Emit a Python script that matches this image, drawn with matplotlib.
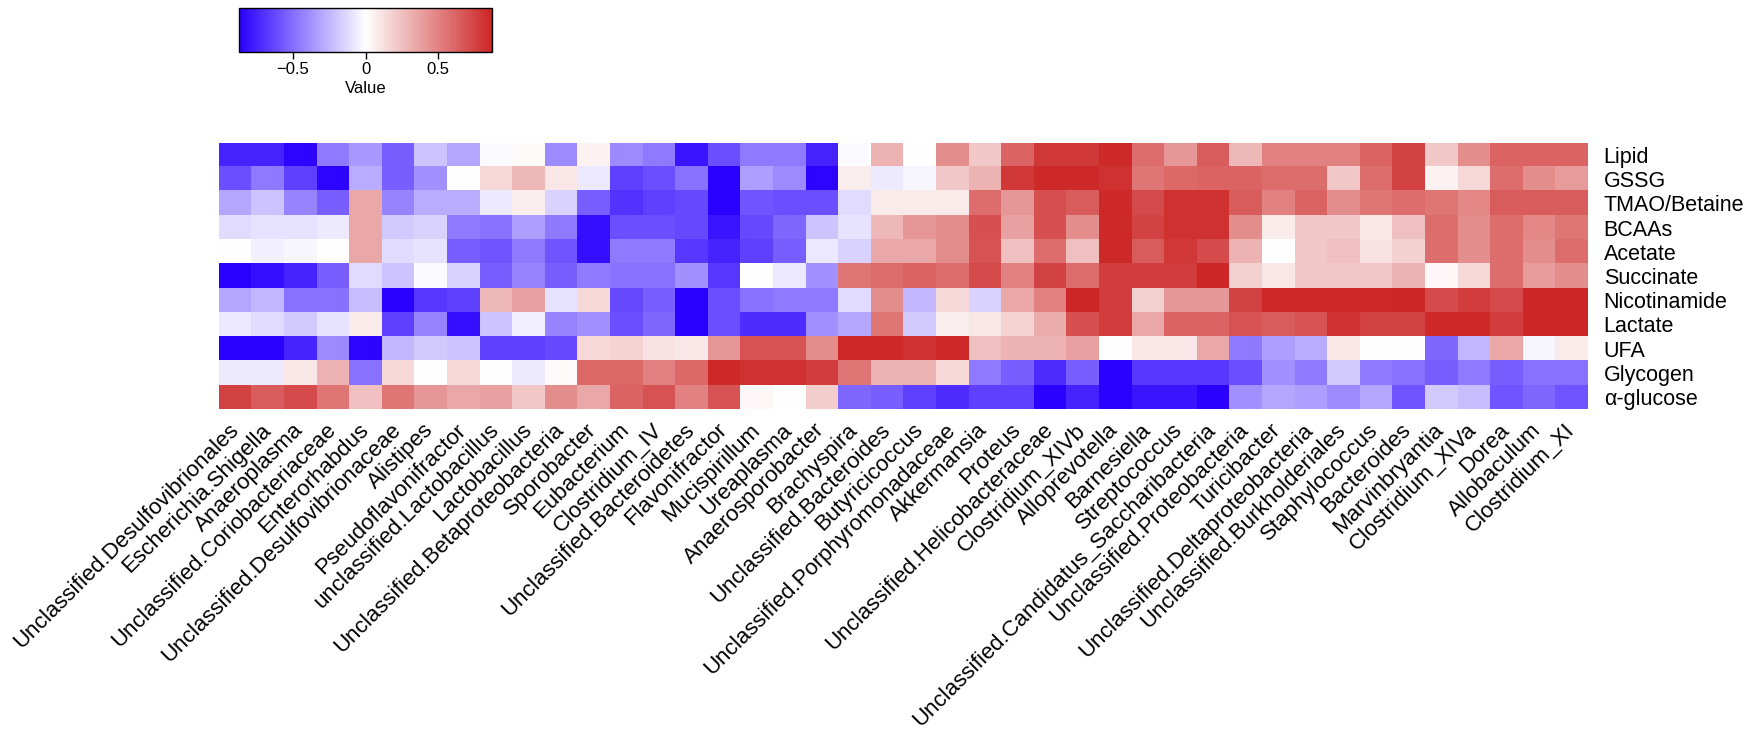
import numpy as np
import matplotlib
matplotlib.use("Agg")
import matplotlib.pyplot as plt
from matplotlib.colors import LinearSegmentedColormap

plt.rcParams['font.family'] = ['Liberation Sans', 'DejaVu Sans']

genera = ["Unclassified.Desulfovibrionales", "Escherichia.Shigella", "Anaeroplasma",
          "Unclassified.Coriobacteriaceae", "Enterorhabdus", "Unclassified.Desulfovibrionaceae",
          "Alistipes", "Pseudoflavonifractor", "unclassified.Lactobacillus", "Lactobacillus",
          "Unclassified.Betaproteobacteria", "Sporobacter", "Eubacterium", "Clostridium_IV",
          "Unclassified.Bacteroidetes", "Flavonifractor", "Mucispirillum", "Ureaplasma",
          "Anaerosporobacter", "Brachyspira", "Unclassified.Bacteroides", "Butyricicoccus",
          "Unclassified.Porphyromonadaceae", "Akkermansia", "Proteus",
          "Unclassified.Helicobacteraceae", "Clostridium_XIVb", "Alloprevotella", "Barnesiella",
          "Streptococcus", "Unclassified.Candidatus_Saccharibacteria", "Unclassified.Proteobacteria",
          "Turicibacter", "Unclassified.Deltaproteobacteria", "Unclassified.Burkholderiales",
          "Staphylococcus", "Bacteroides", "Marvinbryantia", "Clostridium_XIVa", "Dorea",
          "Allobaculum", "Clostridium_XI"]

metabolites = ["Lipid", "GSSG", "TMAO/Betaine", "BCAAs", "Acetate", "Succinate",
               "Nicotinamide", "Lactate", "UFA", "Glycogen", "α-glucose"]

# correlation values per metabolite (one per genus, same order as genera)
lipid = [-0.75, -0.75, -0.85, -0.45, -0.35, -0.55, -0.2, -0.3, -0.02, 0.02, -0.4, 0.05, -0.4, -0.45,
         -0.8, -0.6, -0.45, -0.45, -0.75, -0.02, 0.3, 0.0, 0.45, 0.22, 0.62, 0.8, 0.8, 0.85,
         0.58, 0.42, 0.65, 0.28, 0.5, 0.5, 0.5, 0.62, 0.75, 0.22, 0.45, 0.62, 0.62, 0.62]
gssg = [-0.6, -0.45, -0.65, -0.85, -0.28, -0.55, -0.38, 0.0, 0.15, 0.28, 0.1, -0.08, -0.65, -0.6,
        -0.48, -0.87, -0.33, -0.4, -0.85, 0.07, -0.07, -0.03, 0.22, 0.3, 0.8, 0.85, 0.85, 0.82,
        0.55, 0.6, 0.62, 0.62, 0.58, 0.58, 0.22, 0.58, 0.75, 0.05, 0.15, 0.58, 0.45, 0.4]
tmao = [-0.3, -0.2, -0.42, -0.55, 0.35, -0.42, -0.28, -0.28, -0.08, 0.07, -0.15, -0.55, -0.7, -0.65,
        -0.62, -0.87, -0.58, -0.6, -0.6, -0.12, 0.08, 0.08, 0.08, 0.58, 0.42, 0.7, 0.65, 0.85,
        0.72, 0.82, 0.82, 0.65, 0.5, 0.62, 0.45, 0.55, 0.58, 0.55, 0.48, 0.65, 0.65, 0.65]
bcaas = [-0.12, -0.1, -0.1, -0.07, 0.35, -0.18, -0.15, -0.45, -0.48, -0.33, -0.45, -0.82, -0.6, -0.6,
         -0.62, -0.8, -0.62, -0.52, -0.2, -0.1, 0.28, 0.42, 0.45, 0.7, 0.38, 0.7, 0.45, 0.85,
         0.75, 0.82, 0.82, 0.45, 0.08, 0.22, 0.22, 0.1, 0.25, 0.58, 0.45, 0.58, 0.48, 0.55]
acetate = [0.0, -0.05, -0.03, 0.0, 0.35, -0.12, -0.1, -0.55, -0.58, -0.45, -0.58, -0.82, -0.45, -0.45,
           -0.68, -0.75, -0.65, -0.55, -0.08, -0.15, 0.35, 0.35, 0.45, 0.68, 0.25, 0.58, 0.25, 0.85,
           0.65, 0.8, 0.72, 0.3, 0.0, 0.22, 0.25, 0.12, 0.18, 0.58, 0.45, 0.58, 0.45, 0.58]
succinate = [-0.87, -0.82, -0.75, -0.55, -0.12, -0.2, -0.02, -0.15, -0.55, -0.42, -0.55, -0.45, -0.48, -0.48,
             -0.38, -0.68, 0.0, -0.08, -0.38, 0.55, 0.58, 0.62, 0.58, 0.72, 0.5, 0.75, 0.58, 0.78,
             0.78, 0.78, 0.87, 0.18, 0.1, 0.22, 0.22, 0.22, 0.3, 0.03, 0.15, 0.58, 0.4, 0.45]
nicotinamide = [-0.3, -0.25, -0.48, -0.48, -0.22, -0.87, -0.68, -0.65, 0.28, 0.38, -0.1, 0.15, -0.62, -0.55,
                -0.87, -0.6, -0.48, -0.45, -0.45, -0.12, 0.45, -0.25, 0.15, -0.15, 0.35, 0.5, 0.87, 0.78,
                0.18, 0.42, 0.42, 0.75, 0.85, 0.85, 0.85, 0.85, 0.87, 0.72, 0.78, 0.72, 0.87, 0.87]
lactate = [-0.08, -0.12, -0.18, -0.1, 0.08, -0.65, -0.42, -0.82, -0.2, -0.05, -0.42, -0.38, -0.6, -0.52,
           -0.87, -0.6, -0.72, -0.72, -0.38, -0.3, 0.55, -0.18, 0.07, 0.1, 0.17, 0.33, 0.7, 0.78,
           0.35, 0.62, 0.62, 0.68, 0.65, 0.68, 0.82, 0.75, 0.75, 0.85, 0.85, 0.78, 0.87, 0.87]
ufa = [-0.87, -0.87, -0.75, -0.4, -0.85, -0.25, -0.18, -0.2, -0.65, -0.65, -0.62, 0.15, 0.17, 0.12,
       0.1, 0.42, 0.68, 0.68, 0.45, 0.85, 0.85, 0.82, 0.85, 0.25, 0.3, 0.3, 0.38, 0.0,
       0.1, 0.1, 0.35, -0.45, -0.33, -0.28, 0.1, 0.0, 0.0, -0.52, -0.25, 0.35, -0.03, 0.08]
glycogen = [-0.07, -0.07, 0.1, 0.3, -0.48, 0.15, 0.0, 0.15, 0.0, -0.07, 0.02, 0.6, 0.6, 0.5,
            0.6, 0.85, 0.82, 0.82, 0.78, 0.55, 0.3, 0.3, 0.15, -0.45, -0.55, -0.72, -0.55, -0.87,
            -0.68, -0.68, -0.68, -0.6, -0.38, -0.45, -0.18, -0.45, -0.48, -0.55, -0.45, -0.55, -0.48, -0.48]
glucose = [0.75, 0.65, 0.72, 0.55, 0.25, 0.55, 0.42, 0.35, 0.38, 0.22, 0.45, 0.35, 0.62, 0.68,
           0.5, 0.68, 0.03, 0.0, 0.2, -0.52, -0.55, -0.65, -0.72, -0.65, -0.65, -0.87, -0.75, -0.87,
           -0.8, -0.8, -0.87, -0.38, -0.3, -0.33, -0.4, -0.3, -0.58, -0.18, -0.22, -0.58, -0.52, -0.58]

data = np.array([lipid, gssg, tmao, bcaas, acetate, succinate,
                 nicotinamide, lactate, ufa, glycogen, glucose])

cmap = LinearSegmentedColormap.from_list("bwr_custom", ["#2A00FF", "#FFFFFF", "#CD2626"])
vlim = 0.87

fig = plt.figure(figsize=(17.55, 7.34), dpi=100)
ax = fig.add_axes([0.1248, 0.4428, 0.7795, 0.3624])
im = ax.imshow(data, cmap=cmap, vmin=-vlim, vmax=vlim, aspect='auto', interpolation='nearest')

for s in ax.spines.values():
    s.set_visible(False)

ax.set_xticks(np.arange(len(genera)))
ax.set_xticklabels(genera, rotation=45, ha='right', va='center', rotation_mode='anchor', fontsize=16)
ax.set_yticks(np.arange(len(metabolites)))
ax.set_yticklabels(metabolites, fontsize=15.5)
ax.yaxis.tick_right()
ax.tick_params(axis='x', length=0, pad=13)
ax.tick_params(axis='y', length=0, pad=12)

# colour key
cax = fig.add_axes([0.1362, 0.9292, 0.1442, 0.0599])
cb = fig.colorbar(im, cax=cax, orientation='horizontal')
cb.set_ticks([-0.5, 0, 0.5])
cb.set_ticklabels(["\u22120.5", "0", "0.5"])
cb.ax.tick_params(labelsize=12, length=5, width=1, pad=2)
cb.outline.set_linewidth(1)
cb.set_label("Value", fontsize=12, labelpad=3)

fig.savefig("out.png", dpi=100)
